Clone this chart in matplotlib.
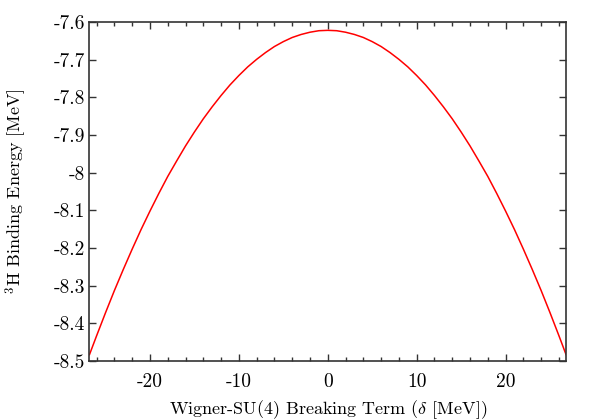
import numpy as np
import matplotlib
matplotlib.use("Agg")
import matplotlib.pyplot as plt
from matplotlib.ticker import MultipleLocator

# values (symmetric about delta = 0)
delta = [-26.8, -26, -25, -24, -23, -22, -21, -20, -19, -18, -17, -16, -15,
         -14, -13, -12, -11, -10, -9, -8, -7, -6, -5, -4, -3, -2, -1,
         0, 1, 2, 3, 4, 5, 6, 7, 8, 9, 10, 11, 12, 13, 14, 15, 16, 17,
         18, 19, 20, 21, 22, 23, 24, 25, 26, 26.8]
energy = [-8.483, -8.433, -8.372, -8.313, -8.257, -8.203, -8.151, -8.102,
          -8.055, -8.010, -7.969, -7.929, -7.892, -7.857, -7.825, -7.795,
          -7.767, -7.742, -7.719, -7.699, -7.681, -7.665, -7.652, -7.641,
          -7.633, -7.627, -7.623,
          -7.622,
          -7.623, -7.627, -7.633, -7.641, -7.652, -7.665, -7.681, -7.699,
          -7.719, -7.742, -7.767, -7.795, -7.825, -7.857, -7.892, -7.929,
          -7.969, -8.010, -8.055, -8.102, -8.151, -8.203, -8.257, -8.313,
          -8.372, -8.433, -8.483]

yticks = [-8.5, -8.4, -8.3, -8.2, -8.1, -8.0, -7.9, -7.8, -7.7, -7.6]
ylabels = ['-8.5', '-8.4', '-8.3', '-8.2', '-8.1', '-8', '-7.9', '-7.8', '-7.7', '-7.6']
xticks = [-20, -10, 0, 10, 20]
xlabels = ['-20', '-10', '0', '10', '20']

plt.rcParams['font.family'] = 'cmr10'
plt.rcParams['mathtext.fontset'] = 'cm'
plt.rcParams['axes.unicode_minus'] = False
plt.rcParams['axes.formatter.use_mathtext'] = True

fig = plt.figure(figsize=(5.99, 4.2), dpi=100)
ax = fig.add_axes([0.1494, 0.1405, 0.7956, 0.807])

ax.plot(delta, energy, color='red', lw=1.1)

ax.set_xlim(-26.8, 26.8)
ax.set_ylim(-8.5, -7.6)
ax.set_xticks(xticks)
ax.set_xticklabels(xlabels)
ax.xaxis.set_minor_locator(MultipleLocator(2))
ax.set_yticks(yticks)
ax.set_yticklabels(ylabels)

ax.tick_params(which='both', direction='in', top=True, right=True, labelsize=14, color='#333333')
ax.tick_params(which='major', length=5, width=1)
ax.tick_params(which='minor', length=3, width=1)
ax.tick_params(axis='y', pad=3)
ax.tick_params(axis='x', pad=9)
for s in ax.spines.values():
    s.set_linewidth(1.2)
    s.set_color('#333333')

ax.set_xlabel(r'Wigner-SU(4) Breaking Term ($\delta$ [MeV])', fontsize=13, labelpad=5)
ax.set_ylabel(r'$^3$H Binding Energy [MeV]', fontsize=13, labelpad=18)

fig.savefig('out.png', dpi=100)
